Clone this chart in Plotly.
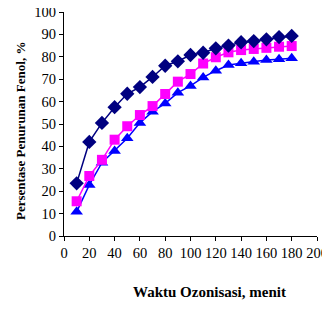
import plotly.graph_objects as go

waktu = [10, 20, 30, 40, 50, 60, 70, 80, 90, 100, 110, 120, 130, 140, 150, 160, 170, 180]
seri_a = [23.5, 42, 50.5, 57.5, 63.5, 66.5, 71, 76, 78, 80.8, 81.8, 83.8, 85, 86.5, 87, 87.8, 88.8, 89.3]
seri_b = [15.5, 26.8, 34, 43, 49, 54, 58, 63.4, 68.9, 72.3, 77, 79.8, 82, 83, 83.5, 84, 84.5, 84.8]
seri_c = [10.8, 22.8, 32.7, 38, 43.6, 50.5, 55.5, 59.2, 64, 67, 70.8, 73.8, 76.3, 77.1, 77.8, 78.6, 78.9, 79.3]

x_ticks = list(range(0, 201, 20))
y_ticks = list(range(0, 101, 10))

font = "Liberation Serif, Times New Roman, serif"

# page body has an 8px margin; compensate so the plot area lands at 64..317 x 12..236
OFF = 8
W, H = 330 - OFF, 311 - OFF
l, r, t, b = 64 - OFF, 13, 12 - OFF, 75
pw, ph = W - l - r, H - t - b


def px_x(xp):
    return (xp - OFF - l) / pw


def px_y(yp):
    return (H - b - (yp - OFF)) / ph


fig = go.Figure()
fig.add_trace(go.Scatter(x=waktu, y=seri_c, mode="lines+markers",
                         line=dict(color="#0000FF", width=1.5),
                         marker=dict(symbol="triangle-up", size=11, color="#0000FF"),
                         showlegend=False))
fig.add_trace(go.Scatter(x=waktu, y=seri_b, mode="lines+markers",
                         line=dict(color="#FF00FF", width=1.5),
                         marker=dict(symbol="square", size=10, color="#FF00FF"),
                         showlegend=False))
fig.add_trace(go.Scatter(x=waktu, y=seri_a, mode="lines+markers",
                         line=dict(color="#000080", width=1.5),
                         marker=dict(symbol="diamond", size=11, color="#000080"),
                         showlegend=False))

fig.update_layout(
    width=W, height=H,
    margin=dict(l=l, r=r, t=t, b=b, autoexpand=False),
    paper_bgcolor="white", plot_bgcolor="white",
    font=dict(family=font, size=15, color="black"),
    xaxis=dict(range=[0, 200], tickvals=x_ticks, showgrid=False, zeroline=False,
               showline=True, linecolor="black", linewidth=1, automargin=False,
               ticks="outside", ticklen=4, tickcolor="black",
               ticklabeloverflow="allow",
               tickfont=dict(size=14.5)),
    yaxis=dict(range=[0, 100], tickvals=y_ticks, showgrid=False, zeroline=False,
               showline=True, linecolor="black", linewidth=1, automargin=False,
               ticks="outside", ticklen=4, tickcolor="black",
               ticklabeloverflow="allow",
               tickfont=dict(size=14.5)),
    annotations=[
        dict(text="<b>Waktu Ozonisasi, menit</b>", x=px_x(209), y=px_y(292),
             xref="paper", yref="paper", xanchor="center", yanchor="middle",
             showarrow=False, font=dict(size=15, family=font)),
        dict(text="<b>Persentase Penurunan Fenol, %</b>", x=px_x(20), y=px_y(131),
             xref="paper", yref="paper", xanchor="center", yanchor="middle", textangle=-90,
             showarrow=False, font=dict(size=13, family=font)),
    ],
)

fig.write_html("out.html")
